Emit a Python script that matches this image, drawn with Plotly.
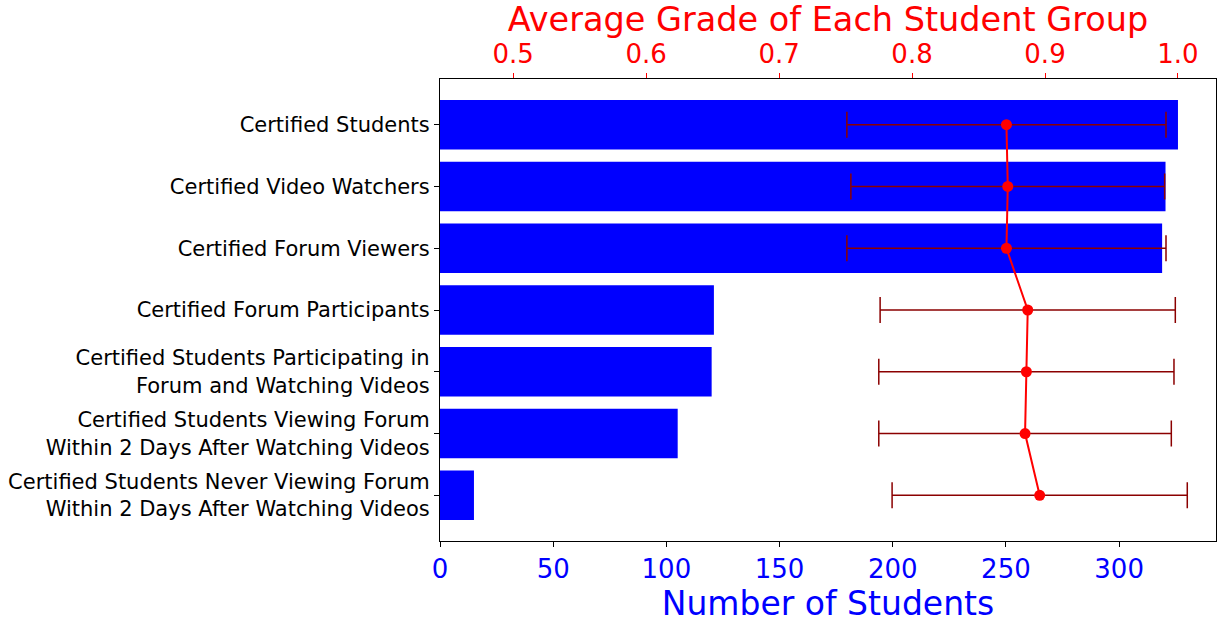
import plotly.graph_objects as go

categories = [
    "Certified Students",
    "Certified Video Watchers",
    "Certified Forum Viewers",
    "Certified Forum Participants",
    "Certified Students Participating in<br>Forum and Watching Videos",
    "Certified Students Viewing Forum<br>Within 2 Days After Watching Videos",
    "Certified Students Never Viewing Forum<br>Within 2 Days After Watching Videos",
]
num_students = [326, 320.5, 319, 121, 120, 105, 15]
avg_grade = [0.871, 0.872, 0.871, 0.887, 0.886, 0.885, 0.896]
grade_std = [0.120, 0.118, 0.120, 0.111, 0.111, 0.110, 0.111]

pos = list(range(len(categories)))
FONT = "DejaVu Sans"

fig = go.Figure()
fig.add_trace(go.Bar(
    x=num_students, y=pos, orientation="h", width=0.8,
    marker=dict(color="#0000FF", line=dict(width=0)),
    xaxis="x", yaxis="y", showlegend=False,
))
fig.add_trace(go.Scatter(
    x=avg_grade, y=pos, mode="lines+markers",
    line=dict(color="#FF0000", width=2),
    marker=dict(color="#FF0000", size=11),
    error_x=dict(type="data", array=grade_std, visible=True,
                 color="#8B0000", thickness=1.5, width=13),
    xaxis="x2", yaxis="y", showlegend=False,
))

fig.update_layout(
    width=1228, height=627,
    margin=dict(l=440, r=12, t=79, b=86),
    paper_bgcolor="white", plot_bgcolor="white",
    font=dict(family=FONT, color="black"),
    xaxis=dict(
        range=[0, 342.8], tickvals=[0, 50, 100, 150, 200, 250, 300],
        tickfont=dict(size=26, color="#0000FF"),
        ticks="outside", ticklen=5, tickcolor="black",
        showgrid=False, zeroline=False, automargin=False,
        showline=True, linecolor="black", linewidth=1.2, mirror=True,
        title=dict(text="Number of Students", font=dict(size=33, color="#0000FF"), standoff=4),
    ),
    xaxis2=dict(
        overlaying="x", side="top", anchor="y",
        range=[0.445, 1.0286], tickvals=[0.5, 0.6, 0.7, 0.8, 0.9, 1.0],
        ticktext=["0.5", "0.6", "0.7", "0.8", "0.9", "1.0"],
        tickfont=dict(size=26, color="#FF0000"),
        ticks="outside", ticklen=5, tickcolor="#FF0000",
        showgrid=False, zeroline=False, showline=False, automargin=False,
        title=dict(text="Average Grade of Each Student Group", font=dict(size=33.5, color="#FF0000"), standoff=2),
    ),
    yaxis=dict(
        range=[6.74, -0.74], tickvals=pos, ticktext=categories,
        tickfont=dict(size=21, color="black"),
        ticks="outside", ticklen=5, tickcolor="black",
        showgrid=False, zeroline=False, automargin=False,
        showline=True, linecolor="black", linewidth=1.2, mirror=True,
    ),
)

fig.write_html("out.html")
